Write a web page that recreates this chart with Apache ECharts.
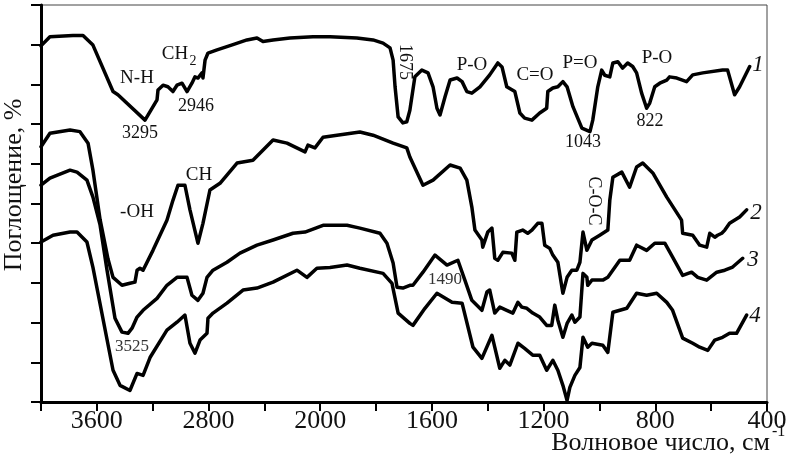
<!DOCTYPE html>
<html>
<head>
<meta charset="utf-8">
<script src="https://cdn.jsdelivr.net/npm/echarts@6/dist/echarts.min.js"></script>
<style>
html,body{margin:0;padding:0;background:#fff;}
#chart{width:794px;height:466px;}
</style>
</head>
<body>
<div id="chart"></div>
<script>
// x tick labels (wavenumber, cm^-1); axis is compressed above 2000
const xTickLabels = [3600, 2800, 2000, 1600, 1200, 800, 400];

// [wavenumber, absorbance (arb. %)]
const curve1 = [[4000,89.7],[3936,92.0],[3771,92.3],[3699,92.3],[3628,89.9],[3484,78.2],[3449,77.4],[3255,71.0],[3169,76.1],[3162,78.6],[3126,79.8],[3091,79.4],[3055,78.2],[3026,79.8],[2990,80.3],[2954,78.2],[2919,80.3],[2897,81.9],[2876,81.6],[2847,82.9],[2840,81.6],[2825,86.1],[2804,87.9],[2739,88.7],[2625,90.0],[2525,91.2],[2453,91.7],[2410,90.8],[2338,91.2],[2217,91.7],[2052,92.0],[1965,92.0],[1869,91.7],[1811,91.2],[1775,90.4],[1750,89.2],[1739,86.1],[1732,79.4],[1721,71.8],[1704,70.3],[1690,70.6],[1679,73.5],[1661,81.9],[1636,83.6],[1614,82.9],[1596,79.4],[1582,74.0],[1571,72.3],[1553,76.9],[1535,81.1],[1510,81.6],[1492,80.7],[1475,78.2],[1457,77.8],[1428,79.4],[1393,82.4],[1364,85.4],[1349,84.4],[1332,79.4],[1303,78.2],[1285,72.8],[1268,71.5],[1242,71.0],[1214,72.8],[1189,74.0],[1185,78.2],[1167,79.1],[1149,79.4],[1131,80.7],[1116,79.4],[1095,74.4],[1063,69.0],[1034,68.1],[1024,71.0],[1006,79.4],[992,83.6],[981,82.3],[963,81.9],[952,85.4],[934,85.7],[917,84.1],[899,85.4],[881,84.5],[867,82.9],[849,77.8],[831,74.0],[820,75.3],[802,79.4],[784,80.3],[759,81.1],[749,81.9],[723,81.6],[688,80.7],[666,82.4],[630,82.9],[559,83.6],[541,83.6],[516,77.4],[498,79.4],[462,84.5]];

const curve2 = [[4000,64.3],[3936,67.7],[3792,68.5],[3721,68.1],[3663,65.2],[3628,58.4],[3577,46.0],[3520,36.0],[3484,31.4],[3420,29.4],[3363,29.9],[3327,30.2],[3312,33.2],[3291,33.7],[3269,33.2],[3198,38.2],[3098,45.8],[3055,50.8],[3019,54.6],[2969,54.6],[2933,48.4],[2876,40.0],[2840,45.0],[2790,53.4],[2718,55.1],[2596,60.2],[2482,60.9],[2338,66.0],[2238,65.2],[2109,63.0],[2088,64.7],[2038,64.0],[1990,66.7],[1940,67.2],[1858,68.0],[1811,67.2],[1739,65.2],[1690,64.0],[1679,61.7],[1632,54.6],[1596,55.9],[1535,59.7],[1499,58.9],[1475,55.9],[1457,49.1],[1446,43.3],[1421,40.8],[1418,39.0],[1400,42.8],[1385,43.8],[1375,36.2],[1364,35.7],[1346,37.7],[1314,37.5],[1303,35.7],[1296,42.8],[1275,43.3],[1257,42.5],[1242,43.3],[1221,45.0],[1206,45.0],[1196,39.5],[1178,38.7],[1167,37.0],[1149,35.2],[1131,27.4],[1116,31.4],[1099,33.2],[1081,33.2],[1070,35.2],[1059,42.8],[1052,42.5],[1045,38.2],[1027,40.8],[999,42.0],[970,43.3],[963,50.8],[952,56.6],[920,57.9],[892,54.1],[867,59.2],[845,60.2],[809,57.7],[759,51.6],[706,45.8],[702,42.5],[666,42.0],[641,39.5],[616,39.0],[605,42.5],[587,41.5],[577,42.0],[562,42.5],[551,43.3],[534,45.0],[498,46.6],[473,48.4]];

const curve3 = [[4000,54.6],[3936,56.4],[3792,58.4],[3742,57.9],[3671,55.9],[3628,51.6],[3577,44.6],[3527,33.2],[3470,21.1],[3420,17.6],[3377,17.3],[3348,18.6],[3312,21.4],[3269,23.1],[3169,26.1],[3098,29.4],[3026,31.4],[2954,31.4],[2919,26.9],[2876,25.6],[2840,27.4],[2811,31.4],[2768,33.2],[2668,35.2],[2575,37.5],[2453,39.5],[2338,40.8],[2195,42.5],[2109,42.8],[1990,44.5],[1904,44.5],[1858,43.8],[1786,42.5],[1761,40.0],[1739,35.0],[1725,28.9],[1704,28.7],[1679,29.4],[1668,29.4],[1632,32.7],[1589,37.0],[1546,34.5],[1507,35.7],[1482,30.7],[1457,25.6],[1421,23.1],[1403,27.7],[1393,28.2],[1375,22.4],[1357,23.9],[1332,23.1],[1310,22.4],[1292,25.1],[1278,23.9],[1260,23.6],[1239,22.4],[1214,21.4],[1189,19.3],[1171,19.3],[1160,24.4],[1149,20.6],[1131,16.3],[1116,19.8],[1099,21.9],[1088,20.1],[1070,21.4],[1059,32.4],[1045,31.4],[1042,29.4],[1027,30.7],[988,30.7],[970,31.4],[927,35.7],[892,35.7],[867,39.5],[831,38.2],[802,40.0],[766,40.0],[738,36.5],[702,31.9],[670,32.7],[648,31.4],[616,30.7],[580,32.7],[551,33.2],[523,34.0],[487,36.2]];

const curve4 = [[4000,40.3],[3914,42.0],[3792,42.8],[3742,42.8],[3671,40.3],[3628,33.9],[3484,8.0],[3434,4.2],[3363,2.9],[3312,7.2],[3269,6.7],[3219,11.2],[3098,18.1],[3026,20.1],[2969,21.9],[2933,14.8],[2897,12.3],[2861,15.6],[2811,17.3],[2804,21.1],[2768,22.4],[2668,24.9],[2553,28.2],[2453,28.7],[2338,30.2],[2167,33.2],[2095,31.4],[2024,33.7],[1965,33.9],[1904,34.5],[1858,33.7],[1775,32.4],[1743,29.9],[1721,22.4],[1679,19.8],[1668,19.3],[1625,23.6],[1582,27.4],[1528,25.1],[1492,24.9],[1453,13.8],[1421,11.0],[1385,16.8],[1375,13.8],[1357,8.5],[1339,10.5],[1321,9.3],[1292,14.8],[1268,13.5],[1239,11.8],[1214,11.8],[1189,8.0],[1167,10.5],[1149,8.0],[1131,4.2],[1116,0.4],[1106,3.7],[1088,6.7],[1070,8.7],[1059,16.3],[1042,13.8],[1027,14.8],[988,14.3],[970,12.5],[952,22.6],[902,23.6],[867,27.4],[831,26.9],[795,27.4],[759,25.1],[738,23.1],[702,16.1],[666,14.8],[641,13.8],[612,13.0],[587,15.6],[559,16.3],[534,17.3],[509,17.3],[473,21.9]];

// axis position from wavenumber (400 cm^-1 per step above 2000, 200 below)
function pos(wn) { return wn >= 2000 ? (4000 - wn) / 400 : 5 + (2000 - wn) / 200; }
function toWn(t) { return Math.round(t <= 5 ? 4000 - 400 * t : 2000 - 200 * (t - 5)); }

const SERIF = '"Liberation Serif", "Times New Roman", serif';
const chart = echarts.init(document.getElementById('chart'), null, {renderer: 'canvas'});

function mkSeries(name, d) {
  return {
    name: name, type: 'line', showSymbol: false, symbol: 'none', animation: false,
    data: d.map(p => [pos(p[0]), p[1]]),
    lineStyle: {color: '#000', width: 3.5, join: 'round', cap: 'round'}
  };
}

function txt(text, x, y, size, opts) {
  opts = opts || {};
  return {
    type: 'text', x: x, y: y, rotation: opts.rot || 0, z: 100,
    style: {
      text: text, fill: opts.fill || '#111',
      font: (opts.italic ? 'italic ' : '') + size + 'px ' + SERIF,
      textAlign: opts.align || 'center', textVerticalAlign: 'middle'
    }
  };
}

chart.setOption({
  backgroundColor: '#fff',
  animation: false,
  grid: {left: 41, right: 27, top: 5, bottom: 64, show: true, borderColor: '#444', borderWidth: 1},
  xAxis: {
    type: 'value', min: 0, max: 13, interval: 1,
    axisLine: {show: true, onZero: false, lineStyle: {color: '#000', width: 3}},
    axisTick: {show: true, inside: false, length: 9, lineStyle: {color: '#000', width: 2}},
    axisLabel: {
      show: true, margin: 6, color: '#111', fontFamily: SERIF, fontSize: 26,
      formatter: function (t) { const w = toWn(t); return xTickLabels.indexOf(w) >= 0 ? String(w) : ''; }
    },
    splitLine: {show: false}
  },
  yAxis: {
    type: 'value', min: 0, max: 100, interval: 10,
    axisLine: {show: true, onZero: false, lineStyle: {color: '#000', width: 3}},
    axisTick: {show: true, inside: false, length: 10, lineStyle: {color: '#000', width: 2}},
    axisLabel: {show: false},
    splitLine: {show: false}
  },
  series: [mkSeries('1', curve1), mkSeries('2', curve2), mkSeries('3', curve3), mkSeries('4', curve4)],
  graphic: [
    txt('Поглощение, %', 14, 185, 26, {rot: Math.PI / 2}),
    txt('Волновое число, см', 770, 443, 26, {align: 'right'}),
    txt('-1', 772, 432, 16, {align: 'left'}),
    txt('N-H', 137, 78, 19),
    txt('CH', 175, 54, 19),
    txt('2', 193, 61, 14),
    txt('3295', 140, 133, 18),
    txt('2946', 196, 106, 18),
    txt('1675', 405, 62, 18, {rot: -Math.PI / 2}),
    txt('P-O', 472, 65, 19),
    txt('C=O', 535, 75, 19),
    txt('P=O', 580, 63, 19),
    txt('1043', 583, 142, 18),
    txt('P-O', 657, 58, 19),
    txt('822', 650, 121, 18),
    txt('-OH', 137, 212, 19),
    txt('CH', 199, 175, 19),
    txt('C-O-C', 594, 201, 18, {rot: -Math.PI / 2}),
    txt('3525', 132, 347, 17, {fill: '#333'}),
    txt('1490', 445, 280, 17, {fill: '#333'}),
    txt('1', 758, 65, 23, {italic: true}),
    txt('2', 756, 213, 23, {italic: true}),
    txt('3', 753, 260, 23, {italic: true}),
    txt('4', 755, 316, 23, {italic: true})
  ]
});
</script>
</body>
</html>
